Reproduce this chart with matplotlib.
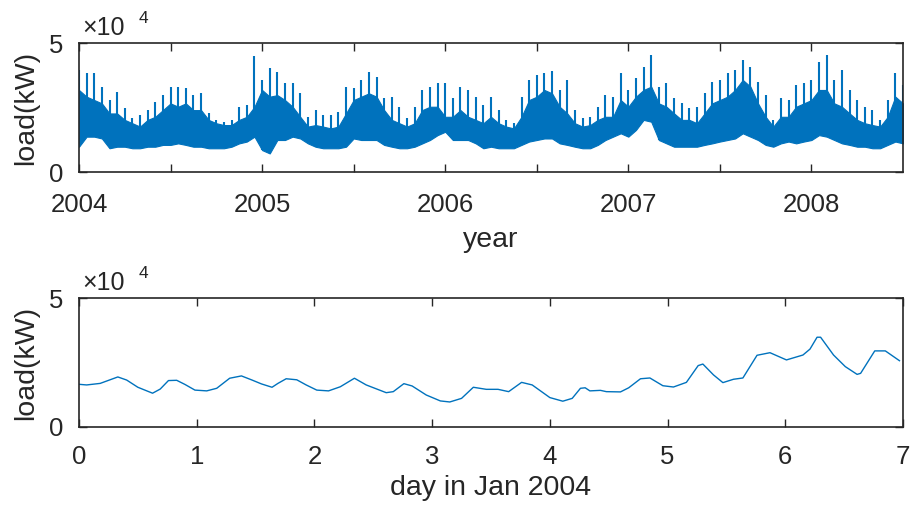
import numpy as np
import matplotlib
matplotlib.use("Agg")
import matplotlib.pyplot as plt

plt.rcParams['font.family'] = ['Liberation Sans', 'DejaVu Sans']

# top panel: half-monthly samples Jan 2004 - Jul 2008, values in 1e4 kW
# highest spike, top of the dense band, bottom of the band
load_peak = [3.95, 3.82, 3.85, 3.31, 2.79, 3.11, 2.47, 2.08, 2.21, 2.40, 2.73, 2.98,
             3.31, 3.31, 3.24, 2.98, 3.05, 2.27, 2.02, 1.95, 2.02, 2.53, 2.60, 4.50,
             3.57, 4.02, 3.89, 3.44, 3.44, 3.05, 2.14, 2.40, 2.21, 2.21, 2.34, 3.31,
             3.24, 3.57, 3.89, 3.70, 2.86, 2.92, 2.53, 2.08, 2.53, 3.18, 3.31, 3.44,
             3.44, 2.86, 3.31, 3.18, 2.92, 2.60, 2.92, 2.40, 2.02, 1.89, 2.92, 3.57,
             3.76, 3.82, 3.93, 3.18, 3.57, 2.40, 2.08, 2.14, 2.53, 2.98, 2.92, 3.82,
             3.18, 3.63, 4.08, 4.54, 3.31, 3.44, 2.86, 2.66, 2.47, 2.53, 3.05, 3.50,
             3.57, 3.82, 3.95, 4.34, 4.08, 3.50, 2.98, 2.02, 2.86, 2.79, 3.37, 3.44,
             3.57, 4.28, 4.54, 3.57, 3.95, 3.18, 2.79, 2.53, 2.40, 2.02, 2.79, 3.82,
             3.37]
load_band = [3.18, 2.92, 2.79, 2.66, 2.27, 2.27, 2.02, 1.89, 1.76, 2.02, 2.14, 2.40,
             2.66, 2.53, 2.66, 2.40, 2.40, 2.02, 1.89, 1.82, 1.82, 2.02, 2.14, 2.53,
             3.18, 2.92, 2.98, 2.79, 2.53, 2.14, 1.76, 1.82, 1.76, 1.69, 1.76, 2.27,
             2.79, 2.92, 3.05, 2.92, 2.40, 2.02, 1.89, 1.76, 1.89, 2.40, 2.53, 2.53,
             2.14, 2.14, 2.40, 2.14, 2.02, 1.89, 2.14, 1.89, 1.76, 1.69, 2.14, 2.79,
             2.92, 3.18, 3.05, 2.53, 2.27, 1.89, 1.76, 1.82, 2.02, 2.14, 2.14, 2.79,
             2.53, 2.92, 3.18, 3.31, 2.66, 2.53, 2.27, 2.02, 2.02, 1.89, 2.27, 2.66,
             2.79, 2.92, 3.18, 3.57, 3.31, 2.66, 2.14, 1.76, 2.14, 2.14, 2.53, 2.66,
             2.79, 3.18, 3.18, 2.66, 2.53, 2.27, 2.02, 1.89, 1.82, 1.76, 2.14, 2.92,
             2.66]
load_low = [0.98, 1.37, 1.37, 1.30, 0.92, 0.98, 0.98, 0.92, 0.92, 0.98, 0.98, 1.05,
            1.05, 1.11, 1.05, 0.98, 0.98, 0.92, 0.92, 0.92, 0.98, 1.11, 1.18, 1.37,
            0.85, 0.72, 1.24, 1.24, 1.37, 1.30, 1.11, 0.98, 0.92, 0.92, 0.92, 0.98,
            1.30, 1.24, 1.24, 1.24, 1.05, 0.98, 0.92, 0.92, 0.98, 1.11, 1.24, 1.43,
            1.56, 1.24, 1.24, 1.24, 1.11, 0.92, 0.98, 0.92, 0.92, 0.92, 1.05, 1.18,
            1.24, 1.30, 1.30, 1.11, 1.05, 0.98, 0.92, 0.92, 1.05, 1.24, 1.37, 1.50,
            1.37, 1.63, 2.02, 1.95, 1.24, 1.11, 0.98, 0.98, 0.98, 0.98, 1.05, 1.11,
            1.18, 1.24, 1.30, 1.50, 1.37, 1.24, 1.05, 0.98, 1.11, 1.18, 1.11, 1.18,
            1.24, 1.43, 1.37, 1.24, 1.11, 1.05, 0.98, 0.98, 0.92, 0.92, 1.05, 1.18,
            1.11]
year_ticks = [2004, 2004.5, 2005, 2005.5, 2006, 2006.5, 2007, 2007.5, 2008]
year_labels = ['2004', '', '2005', '', '2006', '', '2007', '', '2008']

# bottom panel: first week of Jan 2004, values in 1e4 kW
day = [0, 0.065, 0.18, 0.33, 0.405, 0.50, 0.625, 0.69, 0.76, 0.83, 0.90, 0.985,
       1.085, 1.17, 1.28, 1.38, 1.47, 1.55, 1.64, 1.69, 1.76, 1.85, 1.93, 2.02,
       2.12, 2.22, 2.34, 2.44, 2.61, 2.67, 2.76, 2.83, 2.95, 3.07, 3.15, 3.25,
       3.35, 3.46, 3.56, 3.65, 3.76, 3.85, 4.00, 4.11, 4.19, 4.26, 4.30, 4.34,
       4.43, 4.48, 4.60, 4.67, 4.77, 4.85, 4.96, 5.05, 5.16, 5.26, 5.30, 5.39,
       5.47, 5.56, 5.64, 5.76, 5.87, 6.01, 6.15, 6.21, 6.27, 6.30, 6.41, 6.51,
       6.61, 6.64, 6.76, 6.85, 6.97]
week_load = [1.655, 1.63, 1.69, 1.94, 1.82, 1.54, 1.31, 1.47, 1.80, 1.81, 1.65, 1.43,
             1.40, 1.50, 1.89, 1.98, 1.82, 1.67, 1.54, 1.69, 1.87, 1.83, 1.63, 1.43,
             1.40, 1.56, 1.89, 1.63, 1.33, 1.37, 1.68, 1.59, 1.24, 1.01, 0.97, 1.11,
             1.54, 1.46, 1.46, 1.37, 1.73, 1.63, 1.14, 1.00, 1.11, 1.50, 1.52, 1.40,
             1.42, 1.37, 1.36, 1.52, 1.87, 1.90, 1.60, 1.55, 1.73, 2.38, 2.44, 2.02,
             1.72, 1.85, 1.90, 2.78, 2.88, 2.60, 2.79, 3.02, 3.48, 3.48, 2.79, 2.34,
             2.04, 2.08, 2.95, 2.95, 2.57]

blue = '#0072BD'
dark = '#262626'
tick_fs = 18.5
label_fs = 20.5

t_year = 2004 + np.arange(len(load_peak)) / 24
peak = np.array(load_peak) * 1e4
band = np.array(load_band) * 1e4
low = np.array(load_low) * 1e4

fig = plt.figure(figsize=(9.1, 5.11), dpi=100)
ax1 = fig.add_axes([0.0868, 0.6634, 0.9055, 0.2524])
ax2 = fig.add_axes([0.0868, 0.1644, 0.9055, 0.2524])

# dense band + thin spikes
ax1.fill_between(t_year, low, band, color=blue, lw=0.8, edgecolor=blue)
ax1.vlines(t_year, low, peak, color=blue, lw=1.5)
ax1.set_xlim(2004, 2008.5)
ax1.set_xticks(year_ticks)
ax1.set_xticklabels(year_labels)
ax1.tick_params(axis='x', pad=15)
ax1.set_xlabel('year', fontsize=label_fs, color=dark)
ax1.xaxis.label.set_va('center')
ax1.xaxis.set_label_coords(0.5, -0.53)

ax2.plot(day, np.array(week_load) * 1e4, color=blue, lw=1.0)
ax2.set_xlim(0, 7)
ax2.set_xticks(range(8))
ax2.tick_params(axis='x', pad=13)
ax2.set_xlabel('day in Jan 2004', fontsize=label_fs, color=dark)
ax2.xaxis.label.set_va('center')
ax2.xaxis.set_label_coords(0.5, -0.47)

for ax in (ax1, ax2):
    ax.set_ylim(0, 5e4)
    ax.set_yticks([0, 5e4])
    ax.set_yticklabels(['0', '5'])
    ax.set_ylabel('load(kW)', fontsize=label_fs, color=dark)
    ax.yaxis.label.set_ha('center')
    ax.yaxis.label.set_va('center')
    ax.yaxis.set_label_coords(-0.064, 0.5)
    ax.tick_params(axis='x', direction='in', length=6, width=1, top=True,
                   labelsize=tick_fs, colors=dark)
    ax.tick_params(axis='y', direction='in', length=6, width=1, right=True,
                   labelsize=tick_fs, colors=dark, pad=11)
    for s in ax.spines.values():
        s.set_color(dark)
        s.set_linewidth(1.2)
    ax.text(0.004, 1.062, '\u00d710', transform=ax.transAxes, fontsize=18,
            color=dark, va='baseline', ha='left')
    ax.text(0.072, 1.155, '4', transform=ax.transAxes, fontsize=12.5,
            color=dark, va='baseline', ha='left')

fig.savefig('out.png', dpi=100)
